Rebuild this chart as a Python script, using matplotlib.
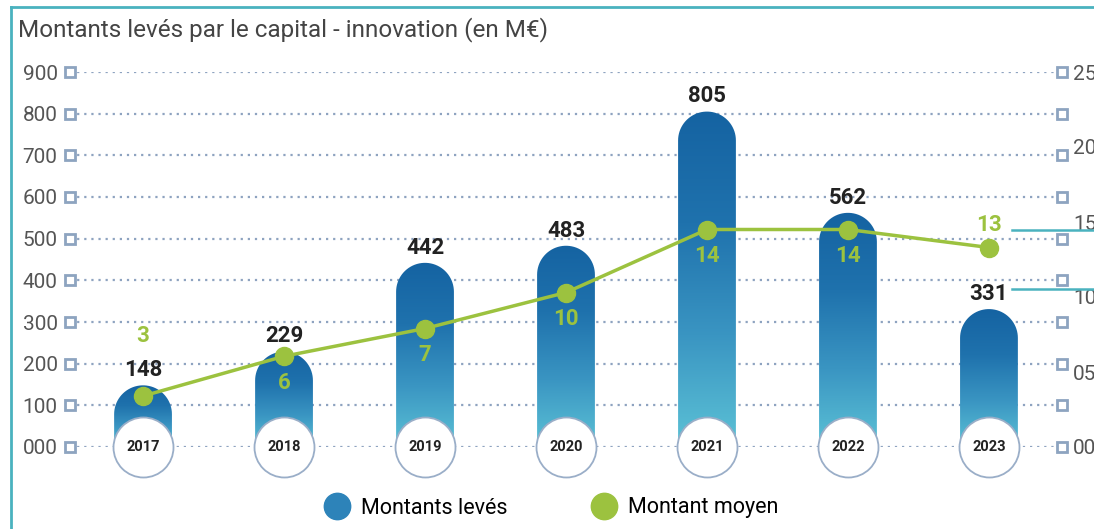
import numpy as np
import matplotlib.pyplot as plt
from matplotlib.path import Path
from matplotlib.patches import PathPatch
from matplotlib.colors import LinearSegmentedColormap
from matplotlib.lines import Line2D

plt.rcParams['font.family'] = ['Roboto', 'DejaVu Sans']

years = ['2017', '2018', '2019', '2020', '2021', '2022', '2023']
montants = [148, 229, 442, 483, 805, 562, 331]
moyen = [3.4, 6.05, 7.9, 10.3, 14.5, 14.5, 13.3]
left_ticks = [0, 100, 200, 300, 400, 500, 600, 700, 800, 900]
right_ticks = [0, 5, 10, 15, 20, 25]

# style des étiquettes vertes (décalage en points)
moyen_offsets = [43, -19, -19, -19, -19, -19, 16]

BLUE_TOP = '#1563a2'
BLUE_BOT = '#5cc2d6'
GREEN = '#9cc23f'
GRID = '#8ea3c0'
TEAL = '#4ab2bf'

W, H = 1094, 529
fig = plt.figure(figsize=(W / 100, H / 100), dpi=100)
ax = fig.add_axes([70 / W, 82 / H, 992 / W, 375 / H])
xlim = (-0.518, 6.518)
ax.set_xlim(*xlim)
ax.set_ylim(0, 900)

cmap = LinearSegmentedColormap.from_list('bar', [BLUE_BOT, '#3a95c2', '#1f72ad', BLUE_TOP])
bw = 0.41
px_x = 992 / (xlim[1] - xlim[0])
px_y = 375 / 900
ry = (bw / 2 * px_x) / px_y

for i, v in enumerate(montants):
    x0, x1 = i - bw / 2, i + bw / 2
    t = np.linspace(np.pi, 0, 40)
    pts = [(x0, 0), (x0, v - ry)]
    pts += [(i + bw / 2 * np.cos(a), v - ry + ry * np.sin(a)) for a in t]
    pts += [(x1, 0), (x0, 0)]
    codes = [Path.MOVETO] + [Path.LINETO] * (len(pts) - 2) + [Path.CLOSEPOLY]
    patch = PathPatch(Path(pts, codes), facecolor='none', edgecolor='none')
    ax.add_patch(patch)
    im = ax.imshow(np.linspace(0, 1, 256).reshape(-1, 1), extent=[x0, x1, 0, v],
                   origin='lower', cmap=cmap, aspect='auto', zorder=2)
    im.set_clip_path(patch)
    ax.annotate(str(v), (i, v), xytext=(0, 3), textcoords='offset points',
                ha='center', va='bottom', fontsize=16, fontweight='bold', color='#222222', zorder=7)

ax.set_xlim(*xlim)
ax.set_ylim(0, 900)

# cercles des années
xs = np.arange(len(years))
ax.scatter(xs, [0] * len(xs), s=1866, facecolor='white', edgecolor='#9aaec8',
           linewidth=1.3, clip_on=False, zorder=8)
for i, yr in enumerate(years):
    ax.text(i, 0, yr, ha='center', va='center', fontsize=10.5, fontweight='bold',
            color='#222222', zorder=9, clip_on=False)

ax.set_yticks(left_ticks)
ax.set_yticklabels([f'{v:03d}' for v in left_ticks])
ax.set_xticks([])
ax.tick_params(axis='y', length=0, pad=9, labelsize=15, labelcolor='#555555')
ax.yaxis.grid(True, linestyle=(0, (1, 2.2)), color=GRID, lw=1.6)
ax.set_axisbelow(True)
for s in ax.spines.values():
    s.set_visible(False)

for xe in xlim:
    ax.plot([xe] * len(left_ticks), left_ticks, 's', mfc='white', mec='#8da4c0',
            ms=7, mew=2, clip_on=False, zorder=6)

ax2 = ax.twinx()
ax2.set_ylim(0, 25)
ax2.set_yticks(right_ticks)
ax2.set_yticklabels([f'{v:02d}' for v in right_ticks])
ax2.tick_params(axis='y', length=0, pad=8, labelsize=15, labelcolor='#555555')
for s in ax2.spines.values():
    s.set_visible(False)

ax2.plot(xs, moyen, color=GREEN, lw=2.5, marker='o', ms=13, zorder=5)
for i, (v, off) in enumerate(zip(moyen, moyen_offsets)):
    ax2.annotate(str(int(v)), (i, v), xytext=(0, off), textcoords='offset points',
                 ha='center', va='center', fontsize=16, fontweight='semibold', color=GREEN)

# traits de renvoi à droite
fig.canvas.draw()
lab_331 = ax.transData.transform((6, montants[-1]))[1] + 20
lab_13 = ax2.transData.transform((6, moyen[-1]))[1] + 18
x_start = ax.transData.transform((6.16, 0))[0]
for yy in [lab_331, lab_13]:
    fig.add_artist(Line2D([x_start / W, 1], [yy / H, yy / H], color=TEAL, lw=1.8))

# cadre
fig.add_artist(Line2D([11 / W, 11 / W], [0, 1 - 7 / H], color=TEAL, lw=2))
fig.add_artist(Line2D([11 / W, 1], [1 - 7 / H, 1 - 7 / H], color=TEAL, lw=2))

fig.text(18 / W, 1 - 30 / H, 'Montants levés par le capital - innovation (en M€)',
         fontsize=17.5, color='#444444', va='center', ha='left')

handles = [Line2D([], [], marker='o', ls='none', ms=19, color='#2d83b9', label='Montants levés'),
           Line2D([], [], marker='o', ls='none', ms=19, color=GREEN, label='Montant moyen')]
fig.legend(handles=handles, loc='center', bbox_to_anchor=(0.5, 1 - 508 / H), ncol=2,
           frameon=False, fontsize=15.5, handletextpad=0.1, columnspacing=3.5)

fig.savefig('out.png', dpi=100)
